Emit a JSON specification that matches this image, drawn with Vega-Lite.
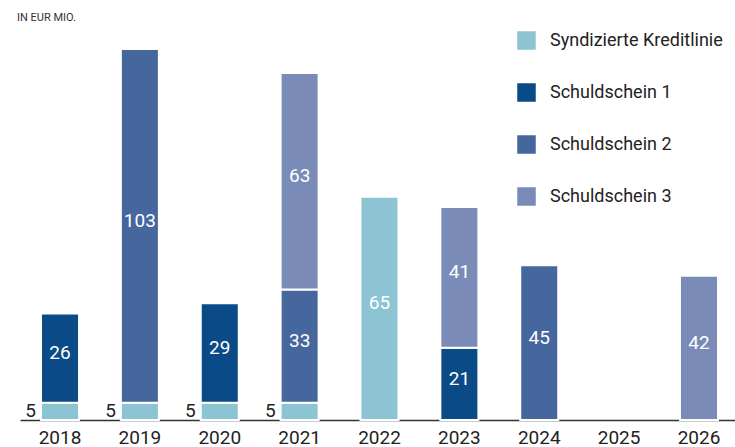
{
  "$schema": "https://vega.github.io/schema/vega-lite/v6.json",
  "autosize": {"type": "none"},
  "width": 715,
  "height": 390,
  "padding": {"left": 20, "top": 30, "right": 0, "bottom": 27},
  "background": "white",
  "title": {"text": "IN EUR MIO.", "anchor": "start", "frame": "group", "fontSize": 11, "font": "Roboto", "fontWeight": "normal", "color": "#333333", "baseline": "alphabetic", "offset": 8, "dx": -3, "dy": 10},
  "config": {"view": {"stroke": null}},
  "data": {"values": [
    {"year": "2018", "series": "Syndizierte Kreditlinie", "o": 0, "value": 5},
    {"year": "2018", "series": "Schuldschein 1", "o": 1, "value": 26},
    {"year": "2019", "series": "Syndizierte Kreditlinie", "o": 0, "value": 5},
    {"year": "2019", "series": "Schuldschein 2", "o": 2, "value": 103},
    {"year": "2020", "series": "Syndizierte Kreditlinie", "o": 0, "value": 5},
    {"year": "2020", "series": "Schuldschein 1", "o": 1, "value": 29},
    {"year": "2021", "series": "Syndizierte Kreditlinie", "o": 0, "value": 5},
    {"year": "2021", "series": "Schuldschein 2", "o": 2, "value": 33},
    {"year": "2021", "series": "Schuldschein 3", "o": 3, "value": 63},
    {"year": "2022", "series": "Syndizierte Kreditlinie", "o": 0, "value": 65},
    {"year": "2023", "series": "Schuldschein 1", "o": 1, "value": 21},
    {"year": "2023", "series": "Schuldschein 3", "o": 3, "value": 41},
    {"year": "2024", "series": "Schuldschein 2", "o": 2, "value": 45},
    {"year": "2026", "series": "Schuldschein 3", "o": 3, "value": 42}
  ]},
  "transform": [
    {"stack": "value", "groupby": ["year"], "sort": [{"field": "o", "order": "ascending"}], "as": ["v0", "v1"]},
    {"calculate": "(datum.v0 + datum.v1) / 2", "as": "vm"}
  ],
  "encoding": {
    "x": {"field": "year", "type": "nominal",
      "scale": {"domain": ["2018","2019","2020","2021","2022","2023","2024","2025","2026"], "range": [0, 719], "paddingInner": 0.524, "paddingOuter": 0.263},
      "axis": {"title": null, "labelAngle": 0, "ticks": false, "domainColor": "#333333", "domainWidth": 1.5, "labelFont": "Roboto", "labelFontSize": 19, "labelColor": "#222222", "labelPadding": 8, "grid": false}}
  },
  "layer": [
    {
      "mark": {"type": "bar", "stroke": "white", "strokeWidth": 2},
      "encoding": {
        "y": {"field": "v0", "type": "quantitative", "scale": {"domain": [0, 113.5], "nice": false}, "axis": null},
        "y2": {"field": "v1"},
        "color": {"field": "series", "type": "nominal",
          "scale": {"domain": ["Syndizierte Kreditlinie", "Schuldschein 1", "Schuldschein 2", "Schuldschein 3"], "range": ["#8cc4d3", "#0a4a86", "#46669e", "#7a8bb8"]},
          "legend": {"title": null, "orient": "none", "legendX": 497, "legendY": 1, "symbolType": "square", "symbolSize": 342, "symbolStrokeWidth": 0, "symbolOpacity": 1, "labelFont": "Roboto", "labelFontSize": 18, "labelColor": "#222222", "labelOffset": 14, "labelLimit": 400, "rowPadding": 33, "padding": 0}}
      }
    },
    {
      "transform": [{"filter": "datum.value >= 10"}],
      "mark": {"type": "text", "color": "white", "font": "Roboto", "fontSize": 19, "baseline": "middle", "dy": -5},
      "encoding": {
        "y": {"field": "vm", "type": "quantitative"},
        "text": {"field": "value", "type": "quantitative"}
      }
    },
    {
      "transform": [{"filter": "datum.value < 10"}],
      "mark": {"type": "text", "color": "#222222", "font": "Roboto", "fontSize": 19, "baseline": "middle", "align": "right", "dx": -5},
      "encoding": {
        "x": {"field": "year", "type": "nominal", "bandPosition": 0},
        "y": {"field": "vm", "type": "quantitative"},
        "text": {"field": "value", "type": "quantitative"}
      }
    }
  ]
}
